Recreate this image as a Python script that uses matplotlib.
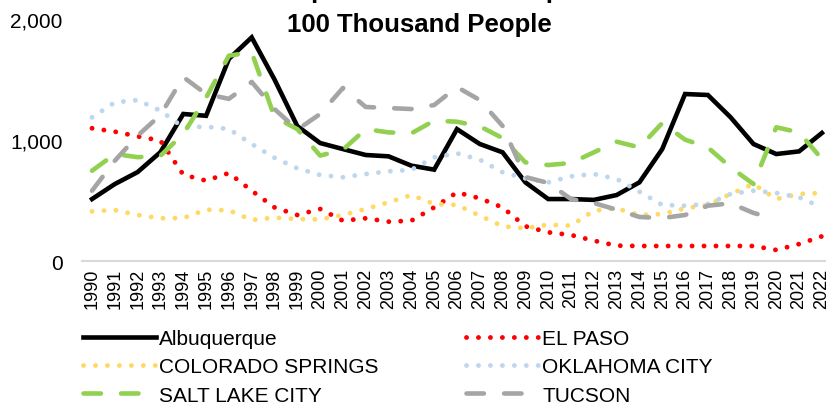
import matplotlib.pyplot as plt
import numpy as np

years = np.arange(1990, 2023)

albuquerque = [512, 636, 735, 900, 1215, 1200, 1670, 1848, 1500, 1115,
               975, 925, 876, 865, 788, 755, 1090, 967, 898, 650,
               512, 512, 505, 545, 650, 925, 1380, 1372, 1187, 967,
               884, 906, 1058]
el_paso = [1097, 1069, 1030, 995, 713, 664, 727, 581, 443, 380,
           430, 333, 353, 325, 333, 443, 567, 518, 443, 287,
           237, 215, 168, 127, 124, 124, 124, 124, 124, 124,
           91, 140, 204]
colorado_springs = [410, 421, 380, 353, 355, 424, 419, 339, 358, 347,
                    344, 380, 430, 485, 545, 471, 463, 375, 287, 270,
                    300, 292, 416, 435, 380, 388, 435, 463, 554, 636,
                    512, 554, 562]
oklahoma_city = [1187, 1311, 1330, 1242, 1105, 1110, 1091, 967, 853, 766,
                 711, 692, 719, 741, 753, 857, 890, 837, 733, 683,
                 650, 700, 719, 678, 573, 463, 457, 471, 554, 581,
                 562, 526, 443]
salt_lake_city = [746, 884, 858, 870, 1050, 1350, 1697, 1725, 1190, 1090,
                  871, 920, 1090, 1063, 1055, 1160, 1151, 1113, 1016, 815,
                  793, 810, 898, 986, 939, 1140, 1003, 939, 774, 636,
                  1105, 1063, 843]
tucson = [581, 829, 1036, 1207, 1520, 1380, 1340, 1480, 1256, 1085,
          1215, 1430, 1273, 1264, 1256, 1289, 1438, 1330, 1116, 694,
          645, 512, 479, 424, 364, 355, 380, 457, 477, 397,
          347, np.nan, np.nan]

title_top = "Compared Crime Rates per"
title_bottom = "100 Thousand People"

plt.rcParams['font.family'] = ['Liberation Sans', 'DejaVu Sans']

fig = plt.figure(figsize=(8.26, 4.06), dpi=100)
ax = fig.add_axes([82 / 826, 1 - 262 / 406, 744 / 826, 242 / 406])

dot = dict(linestyle=(0, (0.01, 2.45)), linewidth=3.5,
           dash_capstyle="round", solid_capstyle="round")
dash = dict(linestyle=(0, (3.8, 4.4)), linewidth=3.3,
            dash_capstyle="round")

l_alb, = ax.plot(years, albuquerque, color="black", linewidth=3.3,
                 solid_joinstyle="miter", label="Albuquerque")
l_ep, = ax.plot(years, el_paso, color="#FF0000", label="EL PASO", **dot)
l_cs, = ax.plot(years, colorado_springs, color="#FFD966",
                label="COLORADO SPRINGS", **dot)
l_ok, = ax.plot(years, oklahoma_city, color="#BDD7EE",
                label="OKLAHOMA CITY", **dot)
l_sl, = ax.plot(years, salt_lake_city, color="#92D050",
                label="SALT LAKE CITY", **dash)
l_tu, = ax.plot(years, tucson, color="#A5A5A5", label="TUCSON", **dash)

ax.set_xlim(1989.56, 2022.18)
ax.set_ylim(0, 2000)
ax.set_xticks(years)
ax.set_xticklabels([str(y) for y in years], rotation=90, fontsize=13)
ax.set_yticks([0, 1000, 2000])
ax.set_yticklabels(["0", "1,000", "2,000"], fontsize=15)
ax.tick_params(axis="both", length=0)
ax.tick_params(axis="y", pad=14)
ax.tick_params(axis="x", pad=5)

for side in ["top", "right", "left"]:
    ax.spines[side].set_visible(False)
ax.spines["bottom"].set_color("#D9D9D9")
ax.spines["bottom"].set_linewidth(1.5)

fig.text(0.508, 1 + 2 / 406, title_top, ha="center", va="baseline",
         fontsize=18.5, fontweight="bold")
fig.text(0.508, 1 - 32 / 406, title_bottom, ha="center", va="baseline",
         fontsize=18.5, fontweight="bold")

# legend is filled row by row in the reference
handles = [l_alb, l_cs, l_sl, l_ep, l_ok, l_tu]
fig.legend(handles, [h.get_label() for h in handles],
           loc="upper left", bbox_to_anchor=(83 / 826, 1 - 330 / 406),
           ncol=2, frameon=False, fontsize=15, handlelength=3.5,
           handletextpad=0.15, columnspacing=4.2, labelspacing=0.45,
           borderpad=0, borderaxespad=0)

plt.savefig("out.png", dpi=100)
